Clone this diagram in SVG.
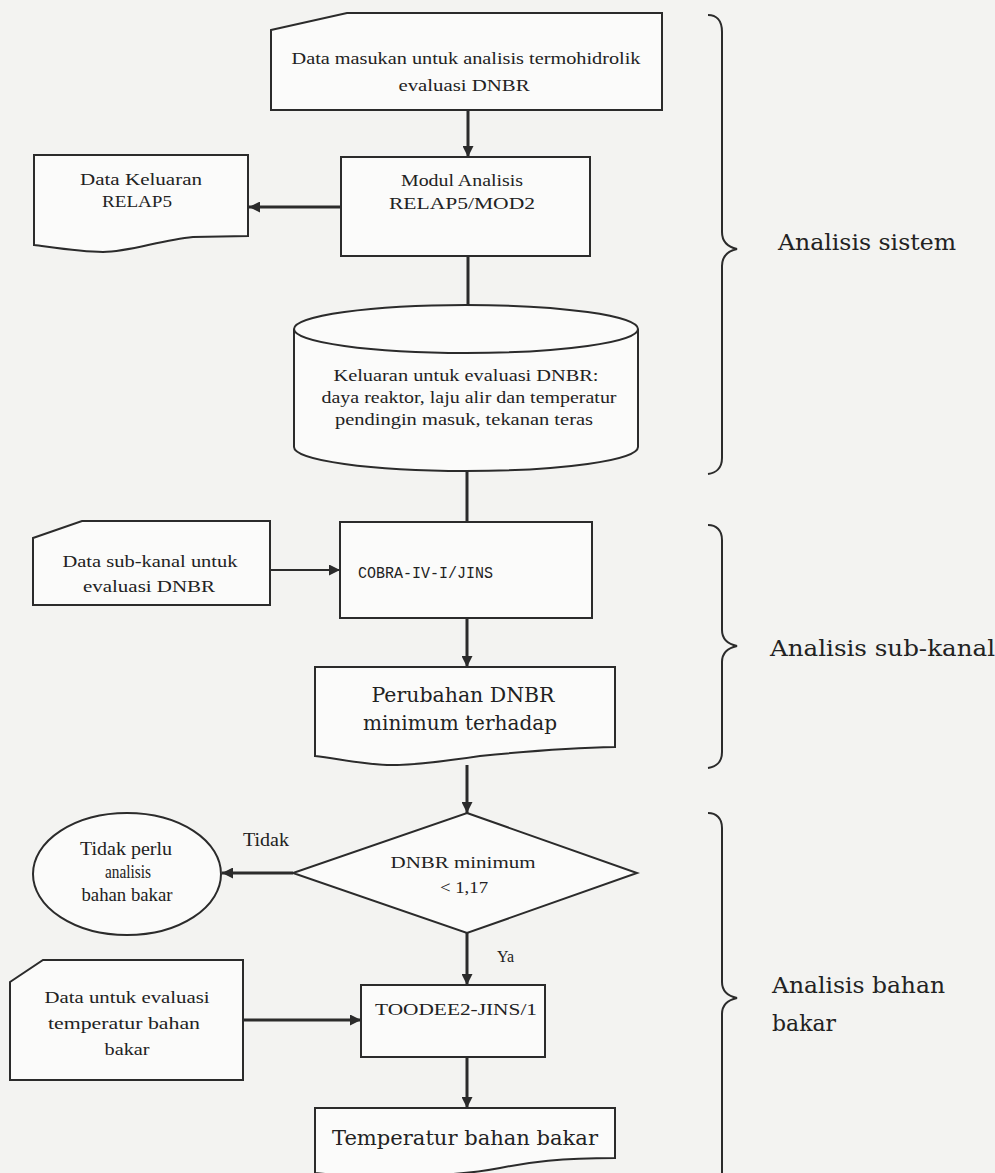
<svg xmlns="http://www.w3.org/2000/svg" width="995" height="1173" viewBox="0 0 995 1173">
  <defs>
    <marker id="ah" viewBox="0 0 10 10" refX="10" refY="5" markerWidth="11" markerHeight="11" markerUnits="userSpaceOnUse" orient="auto">
      <path d="M0,0 L10,5 L0,10 Z" fill="#2b2b2b"/>
    </marker>
    <style>
      .shape { fill: #fbfbfa; stroke: #2b2b2b; stroke-width: 2; }
      .t { font-family: "Liberation Serif", "Times New Roman", serif; font-size: 16px; fill: #222; text-anchor: middle; }
      .tl { font-family: "Liberation Serif", "Times New Roman", serif; font-size: 16px; fill: #222; }
      .big { font-family: "DejaVu Serif", "Liberation Serif", serif; font-size: 20px; fill: #222; text-anchor: middle; }
      .side { font-family: "DejaVu Serif", "Liberation Serif", serif; font-size: 22px; fill: #222; }
      .mono { font-family: "Liberation Mono", "Courier New", monospace; font-size: 17px; fill: #222; }
      .line { stroke: #2b2b2b; stroke-width: 3; fill: none; }
      .thin { stroke: #2b2b2b; stroke-width: 1.8; fill: none; }
      .brace { stroke: #2b2b2b; stroke-width: 2; fill: none; }
    </style>
  </defs>

  <rect x="0" y="0" width="995" height="1173" fill="#f3f3f1"/>

  <g id="connectors">
    <line class="line" x1="468" y1="110" x2="468" y2="157" marker-end="url(#ah)"/>
    <line class="line" x1="341" y1="207" x2="249" y2="207" marker-end="url(#ah)"/>
    <line class="line" x1="468" y1="256" x2="468" y2="305"/>
    <line class="line" x1="467" y1="471" x2="467" y2="522"/>
    <line class="thin" x1="270" y1="570" x2="340" y2="570" marker-end="url(#ah)"/>
    <line class="line" x1="467" y1="618" x2="467" y2="667" marker-end="url(#ah)"/>
    <line class="line" x1="467" y1="765" x2="467" y2="813" marker-end="url(#ah)"/>
    <line class="line" x1="293" y1="873" x2="222" y2="873" marker-end="url(#ah)"/>
    <line class="line" x1="467" y1="933" x2="467" y2="985" marker-end="url(#ah)"/>
    <line class="line" x1="243" y1="1020" x2="361" y2="1020" marker-end="url(#ah)"/>
    <line class="line" x1="467" y1="1057" x2="467" y2="1108" marker-end="url(#ah)"/>
    <text class="tl" x="243" y="846" textLength="46" lengthAdjust="spacingAndGlyphs" style="font-size:18px">Tidak</text>
    <text class="tl" x="497" y="962" textLength="17" lengthAdjust="spacingAndGlyphs">Ya</text>
  </g>

  <g id="input-data">
    <path class="shape" d="M271,30 L347,13 H662 V110 H271 Z"/>
    <text class="t" x="466" y="64" textLength="349" lengthAdjust="spacingAndGlyphs">Data masukan untuk analisis termohidrolik</text>
    <text class="t" x="464" y="91" textLength="131" lengthAdjust="spacingAndGlyphs">evaluasi DNBR</text>
  </g>

  <g id="relap5-module">
    <rect class="shape" x="341" y="157" width="249" height="99"/>
    <text class="t" x="462" y="186" textLength="122" lengthAdjust="spacingAndGlyphs">Modul Analisis</text>
    <text class="t" x="462" y="209" textLength="146" lengthAdjust="spacingAndGlyphs">RELAP5/MOD2</text>
  </g>

  <g id="relap5-output">
    <path class="shape" d="M34,155 H248 V236 L193,237 C160,240 130,252 103,252 C80,252 50,247 34,245 Z"/>
    <text class="t" x="141" y="185" textLength="122" lengthAdjust="spacingAndGlyphs">Data Keluaran</text>
    <text class="t" x="137" y="207" textLength="70" lengthAdjust="spacingAndGlyphs">RELAP5</text>
  </g>

  <g id="dnbr-output-store">
    <path class="shape" d="M294,329 V447 A172,24 0 0 0 638,447 V329 A172,24 0 0 0 294,329 Z"/>
    <path class="shape" d="M294,329 A172,24 0 0 0 638,329" fill="none"/>
    <text class="t" x="466" y="381" textLength="265" lengthAdjust="spacingAndGlyphs">Keluaran untuk evaluasi DNBR:</text>
    <text class="t" x="469" y="403" textLength="295" lengthAdjust="spacingAndGlyphs">daya reaktor, laju alir dan temperatur</text>
    <text class="t" x="464" y="425" textLength="258" lengthAdjust="spacingAndGlyphs">pendingin masuk, tekanan teras</text>
  </g>

  <g id="subchannel-data">
    <path class="shape" d="M33,538 L82,521 H270 V605 H33 Z"/>
    <text class="t" x="150" y="567" textLength="175" lengthAdjust="spacingAndGlyphs">Data sub-kanal untuk</text>
    <text class="t" x="149" y="592" textLength="132" lengthAdjust="spacingAndGlyphs">evaluasi DNBR</text>
  </g>

  <g id="cobra">
    <rect class="shape" x="340" y="522" width="252" height="96"/>
    <text class="mono" x="358" y="578" textLength="135" lengthAdjust="spacingAndGlyphs">COBRA-IV-I/JINS</text>
  </g>

  <g id="dnbr-change">
    <path class="shape" d="M315,667 H615 V747 C560,748 520,752 480,756 C440,762 410,766 387,765 C360,764 335,758 315,756 Z"/>
    <text class="big" x="463" y="702" textLength="183" lengthAdjust="spacingAndGlyphs">Perubahan DNBR</text>
    <text class="big" x="460" y="730" textLength="194" lengthAdjust="spacingAndGlyphs">minimum terhadap</text>
  </g>

  <g id="decision">
    <path class="shape" d="M467,813 L637,873 L467,933 L293,873 Z"/>
    <text class="t" x="463" y="868" textLength="145" lengthAdjust="spacingAndGlyphs">DNBR minimum</text>
    <text class="t" x="464" y="893" textLength="48" lengthAdjust="spacingAndGlyphs">&lt; 1,17</text>
  </g>

  <g id="no-fuel-analysis">
    <ellipse class="shape" cx="127" cy="874" rx="94" ry="61"/>
    <text class="t" x="126" y="855" textLength="92" lengthAdjust="spacingAndGlyphs" style="font-size:18px">Tidak perlu</text>
    <text class="t" x="128" y="878" textLength="46" lengthAdjust="spacingAndGlyphs" style="font-size:18px">analisis</text>
    <text class="t" x="127" y="901" textLength="91" lengthAdjust="spacingAndGlyphs" style="font-size:18px">bahan bakar</text>
  </g>

  <g id="fuel-temp-data">
    <path class="shape" d="M10,982 L43,960 H243 V1080 H10 Z"/>
    <text class="t" x="127" y="1003" textLength="165" lengthAdjust="spacingAndGlyphs">Data untuk evaluasi</text>
    <text class="t" x="124" y="1029" textLength="152" lengthAdjust="spacingAndGlyphs">temperatur bahan</text>
    <text class="t" x="127" y="1055" textLength="45" lengthAdjust="spacingAndGlyphs">bakar</text>
  </g>

  <g id="toodee">
    <rect class="shape" x="361" y="985" width="184" height="72"/>
    <text class="tl" x="375" y="1015" textLength="162" lengthAdjust="spacingAndGlyphs">TOODEE2-JINS/1</text>
  </g>

  <g id="fuel-temperature">
    <path class="shape" d="M315,1108 H615 V1158 C560,1158 530,1162 500,1168 C450,1178 360,1178 315,1173 Z"/>
    <text class="big" x="465" y="1145" textLength="266" lengthAdjust="spacingAndGlyphs">Temperatur bahan bakar</text>
  </g>

  <g id="brace-system">
    <path class="brace" d="M708,15 C716,15 722,20 722,32 V232 C722,242 728,247 737,249 C728,251 722,256 722,266 V458 C722,468 716,473 708,474"/>
    <text class="side" x="778" y="250" textLength="178" lengthAdjust="spacingAndGlyphs">Analisis sistem</text>
  </g>

  <g id="brace-subchannel">
    <path class="brace" d="M708,525 C716,525 722,530 722,540 V630 C722,640 728,644 737,646 C728,648 722,652 722,662 V752 C722,762 716,767 708,768"/>
    <text class="side" x="770" y="656" textLength="225" lengthAdjust="spacingAndGlyphs">Analisis sub-kanal</text>
  </g>

  <g id="brace-fuel">
    <path class="brace" d="M708,813 C716,813 722,818 722,828 V982 C722,992 728,996 737,998 C728,1000 722,1004 722,1014 V1175"/>
    <text class="side" x="772" y="993" textLength="173" lengthAdjust="spacingAndGlyphs">Analisis bahan</text>
    <text class="side" x="772" y="1031" textLength="64" lengthAdjust="spacingAndGlyphs">bakar</text>
  </g>
</svg>
